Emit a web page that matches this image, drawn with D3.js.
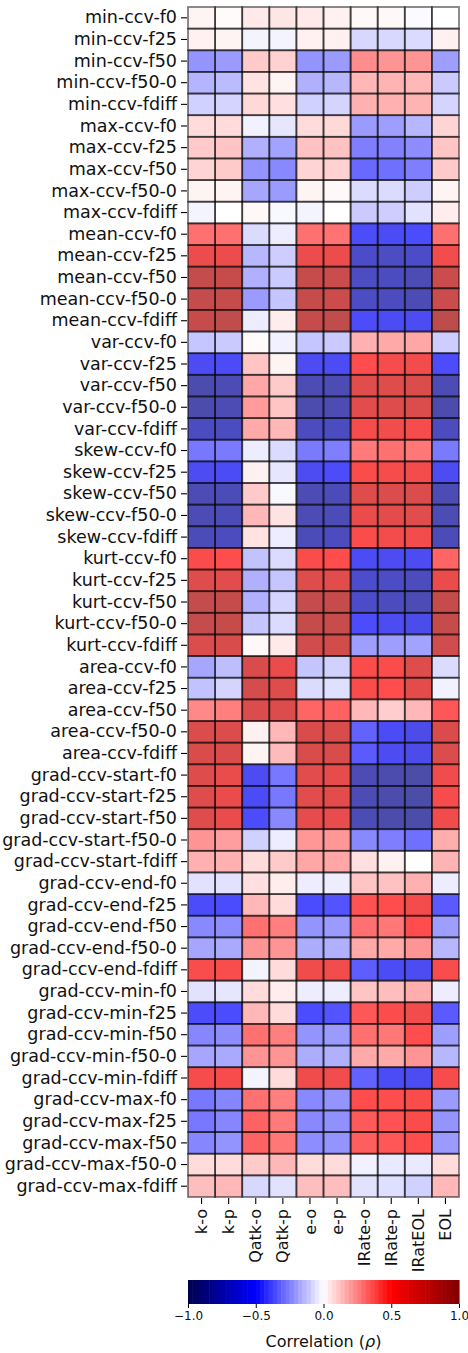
<!DOCTYPE html>
<html>
<head>
<meta charset="utf-8">
<script src="https://cdn.jsdelivr.net/npm/d3@7"></script>
<style>
  html, body { margin: 0; padding: 0; background: #fff; }
  svg { display: block; font-family: "DejaVu Sans", sans-serif; }
</style>
</head>
<body>
<svg id="chart" width="468" height="1353"></svg>
<script>
// ---------- data ----------
const columns = ["k-o", "k-p", "Qatk-o", "Qatk-p", "e-o", "e-p", "IRate-o", "IRate-p", "IRatEOL", "EOL"];
const suffixes = ["f0", "f25", "f50", "f50-0", "fdiff"];
const families = ["min-ccv", "max-ccv", "mean-ccv", "var-ccv", "skew-ccv", "kurt-ccv", "area-ccv",
                  "grad-ccv-start", "grad-ccv-end", "grad-ccv-min", "grad-ccv-max"];

const minVals = [
  [0.03, 0.01, 0.06, 0.07, 0.06, 0.04, 0.02, 0.02, -0.01, 0.00],
  [0.04, 0.03, -0.03, -0.03, 0.04, 0.04, -0.11, -0.11, -0.10, 0.04],
  [-0.30, -0.28, 0.15, 0.13, -0.30, -0.28, 0.32, 0.30, 0.30, -0.27],
  [-0.21, -0.19, 0.08, 0.03, -0.22, -0.20, 0.20, 0.21, 0.20, -0.15],
  [-0.13, -0.12, 0.11, 0.09, -0.13, -0.12, 0.22, 0.22, 0.21, -0.12]
];
const maxVals = [
  [0.10, 0.10, -0.04, -0.07, 0.10, 0.11, -0.28, -0.27, -0.20, 0.12],
  [0.15, 0.16, -0.22, -0.26, 0.17, 0.17, -0.36, -0.35, -0.32, 0.16],
  [0.12, 0.15, -0.30, -0.33, 0.12, 0.13, -0.42, -0.40, -0.36, 0.15],
  [0.03, 0.03, -0.25, -0.28, 0.03, 0.02, -0.10, -0.10, -0.14, 0.03],
  [-0.03, 0.00, 0.02, -0.02, -0.03, 0.00, -0.15, -0.14, -0.08, 0.05]
];
const meanVals = [
  [0.40, 0.40, -0.10, -0.05, 0.40, 0.39, -0.52, -0.53, -0.50, 0.40],
  [0.60, 0.60, -0.20, -0.14, 0.60, 0.60, -0.72, -0.74, -0.72, 0.57],
  [0.83, 0.82, -0.22, -0.15, 0.82, 0.80, -0.74, -0.75, -0.80, 0.80],
  [0.83, 0.82, -0.28, -0.16, 0.82, 0.80, -0.73, -0.76, -0.80, 0.80],
  [0.82, 0.85, -0.05, 0.05, 0.82, 0.85, -0.52, -0.54, -0.55, 0.87]
];
const varVals = [
  [-0.16, -0.15, 0.01, -0.04, -0.16, -0.15, 0.22, 0.24, 0.25, -0.14],
  [-0.55, -0.53, 0.16, 0.03, -0.55, -0.53, 0.50, 0.55, 0.57, -0.52],
  [-0.82, -0.80, 0.25, 0.15, -0.80, -0.80, 0.67, 0.68, 0.70, -0.80],
  [-0.83, -0.80, 0.28, 0.16, -0.82, -0.80, 0.66, 0.68, 0.70, -0.82],
  [-0.75, -0.75, 0.24, 0.20, -0.76, -0.75, 0.55, 0.57, 0.55, -0.76]
];
const skewVals = [
  [-0.38, -0.37, -0.05, -0.10, -0.37, -0.36, 0.37, 0.40, 0.38, -0.37],
  [-0.55, -0.53, 0.04, -0.07, -0.55, -0.52, 0.52, 0.55, 0.56, -0.55],
  [-0.80, -0.78, 0.15, -0.02, -0.80, -0.78, 0.68, 0.70, 0.70, -0.80],
  [-0.80, -0.78, 0.20, 0.08, -0.80, -0.78, 0.62, 0.65, 0.67, -0.80],
  [-0.78, -0.76, 0.08, -0.05, -0.78, -0.76, 0.52, 0.56, 0.57, -0.78]
];
const kurtVals = [
  [0.52, 0.50, -0.17, -0.10, 0.52, 0.50, -0.53, -0.55, -0.55, 0.43],
  [0.68, 0.66, -0.22, -0.16, 0.68, 0.67, -0.70, -0.73, -0.76, 0.62],
  [0.84, 0.82, -0.22, -0.12, 0.83, 0.82, -0.72, -0.76, -0.80, 0.82],
  [0.83, 0.82, -0.16, -0.10, 0.82, 0.81, -0.52, -0.56, -0.58, 0.82],
  [0.70, 0.72, 0.02, 0.06, 0.76, 0.75, -0.27, -0.27, -0.26, 0.76]
];
const areaVals = [
  [-0.25, -0.18, 0.72, 0.62, -0.16, -0.13, 0.52, 0.52, 0.68, -0.10],
  [-0.17, -0.12, 0.74, 0.68, -0.10, -0.09, 0.52, 0.50, 0.65, -0.04],
  [0.33, 0.36, 0.70, 0.69, 0.43, 0.44, 0.20, 0.14, 0.20, 0.47],
  [0.70, 0.70, 0.04, 0.20, 0.71, 0.72, -0.44, -0.53, -0.58, 0.71],
  [0.72, 0.71, 0.03, 0.19, 0.72, 0.72, -0.46, -0.55, -0.58, 0.70]
];
const gradStartVals = [
  [0.68, 0.62, -0.55, -0.38, 0.66, 0.64, -0.80, -0.82, -0.84, 0.58],
  [0.68, 0.62, -0.53, -0.38, 0.66, 0.65, -0.80, -0.83, -0.84, 0.55],
  [0.68, 0.62, -0.50, -0.33, 0.64, 0.63, -0.79, -0.83, -0.84, 0.58],
  [0.30, 0.27, -0.13, -0.05, 0.29, 0.29, -0.33, -0.36, -0.40, 0.23],
  [0.22, 0.22, 0.10, 0.15, 0.25, 0.25, 0.09, 0.04, 0.00, 0.21]
];
const gradEndVals = [
  [-0.08, -0.08, 0.09, 0.05, -0.05, -0.05, 0.16, 0.17, 0.22, -0.05],
  [-0.52, -0.50, 0.20, 0.10, -0.50, -0.48, 0.48, 0.50, 0.56, -0.46],
  [-0.33, -0.32, 0.40, 0.36, -0.30, -0.28, 0.40, 0.38, 0.50, -0.27],
  [-0.25, -0.24, 0.30, 0.30, -0.23, -0.22, 0.24, 0.24, 0.30, -0.20],
  [0.53, 0.53, -0.03, 0.10, 0.58, 0.57, -0.45, -0.53, -0.55, 0.53]
];
const gradMinVals = [
  [-0.08, -0.07, 0.10, 0.05, -0.05, -0.05, 0.16, 0.18, 0.23, -0.05],
  [-0.52, -0.50, 0.20, 0.10, -0.50, -0.48, 0.47, 0.51, 0.57, -0.46],
  [-0.34, -0.32, 0.40, 0.36, -0.30, -0.28, 0.40, 0.38, 0.50, -0.27],
  [-0.25, -0.24, 0.30, 0.30, -0.23, -0.22, 0.24, 0.24, 0.30, -0.20],
  [0.55, 0.54, -0.03, 0.10, 0.58, 0.57, -0.44, -0.53, -0.55, 0.54]
];
const gradMaxVals = [
  [-0.38, -0.34, 0.40, 0.36, -0.33, -0.30, 0.50, 0.50, 0.52, -0.28],
  [-0.38, -0.34, 0.44, 0.37, -0.33, -0.31, 0.46, 0.48, 0.52, -0.30],
  [-0.34, -0.30, 0.44, 0.38, -0.32, -0.30, 0.45, 0.47, 0.50, -0.28],
  [0.10, 0.10, 0.15, 0.20, 0.10, 0.10, -0.04, -0.06, -0.06, 0.10],
  [0.18, 0.20, -0.11, -0.08, 0.18, 0.18, -0.08, -0.09, -0.13, 0.20]
];
const colorbarTicks = [-1.0, -0.5, 0.0, 0.5, 1.0];
const colorbarLabel = "Correlation (";
const colorbarSymbol = "ρ";

// ---------- assemble ----------
const familyValues = [minVals, maxVals, meanVals, varVals, skewVals, kurtVals, areaVals,
                      gradStartVals, gradEndVals, gradMinVals, gradMaxVals];
const rowLabels = [];
const cells = [];
families.forEach((fam, fi) => {
  suffixes.forEach((suf, si) => {
    const label = fam + "-" + suf;
    rowLabels.push(label);
    familyValues[fi][si].forEach((v, ci) => cells.push({row: label, col: columns[ci], v}));
  });
});

// ---------- layout ----------
const svg = d3.select("#chart");
const gx0 = 188, gx1 = 459, gy0 = 7, gy1 = 1197;

const x = d3.scaleBand().domain(columns).range([gx0, gx1]).padding(0);
const y = d3.scaleBand().domain(rowLabels).range([gy0, gy1]).padding(0);
const seismic = d3.scaleLinear()
  .domain([-1, -0.5, 0, 0.5, 1])
  .range(["#00004c", "#0000ff", "#ffffff", "#ff0000", "#800000"])
  .clamp(true);

// fills
svg.append("g")
  .selectAll("rect")
  .data(cells)
  .join("rect")
  .attr("x", d => x(d.col))
  .attr("y", d => y(d.row))
  .attr("width", x.bandwidth())
  .attr("height", y.bandwidth())
  .attr("fill", d => seismic(d.v))
  .attr("fill-opacity", 0.7);

// edges
svg.append("g")
  .selectAll("rect")
  .data(cells)
  .join("rect")
  .attr("x", d => x(d.col))
  .attr("y", d => y(d.row))
  .attr("width", x.bandwidth())
  .attr("height", y.bandwidth())
  .attr("fill", "none")
  .attr("stroke", "#000")
  .attr("stroke-opacity", 0.5)
  .attr("stroke-width", 1.8);

// row axis
const yAxis = svg.append("g")
  .attr("transform", `translate(${gx0 - 1},0)`)
  .call(d3.axisLeft(y).tickSize(6).tickPadding(4));
yAxis.select(".domain").remove();
yAxis.selectAll(".tick line").attr("stroke", "#000").attr("stroke-width", 1.1);
yAxis.selectAll(".tick text")
  .attr("fill", "#111")
  .style("font-size", "17.5px")
  .style("font-family", "DejaVu Sans");

// column axis
const xAxis = svg.append("g")
  .attr("transform", `translate(0,${gy1 + 1})`)
  .call(d3.axisBottom(x).tickSize(6).tickPadding(4));
xAxis.select(".domain").remove();
xAxis.selectAll(".tick line").attr("stroke", "#000").attr("stroke-width", 1.1);
xAxis.selectAll(".tick text")
  .attr("fill", "#111")
  .style("font-size", "16px")
  .style("font-family", "DejaVu Sans")
  .attr("transform", "rotate(-90)")
  .attr("text-anchor", "end")
  .attr("x", -11)
  .attr("y", 0)
  .attr("dy", "0.35em");

// colorbar
const cbX0 = 188, cbX1 = 459, cbY0 = 1280, cbY1 = 1304;
const cbScale = d3.scaleLinear().domain([-1, 1]).range([cbX0, cbX1]);
const nSteps = 64;
const steps = d3.range(nSteps).map(i => -1 + (2 * i) / nSteps);
svg.append("g")
  .selectAll("rect")
  .data(steps)
  .join("rect")
  .attr("x", d => cbScale(d))
  .attr("y", cbY0)
  .attr("width", (cbX1 - cbX0) / nSteps + 0.6)
  .attr("height", cbY1 - cbY0)
  .attr("fill", d => seismic(d + 1 / nSteps));

const cbAxis = svg.append("g")
  .attr("transform", `translate(0,${cbY1})`)
  .call(d3.axisBottom(cbScale).tickValues(colorbarTicks).tickFormat(d3.format(".1f")).tickSize(4).tickPadding(3));
cbAxis.select(".domain").remove();
cbAxis.selectAll(".tick line").attr("stroke", "#000").attr("stroke-width", 1);
cbAxis.selectAll(".tick text")
  .attr("fill", "#111")
  .style("font-size", "12px")
  .style("font-family", "DejaVu Sans");

const lab = svg.append("text")
  .attr("x", (cbX0 + cbX1) / 2)
  .attr("y", 1347)
  .attr("text-anchor", "middle")
  .attr("fill", "#111")
  .style("font-size", "16px");
lab.append("tspan").text(colorbarLabel);
lab.append("tspan").style("font-style", "italic").text(colorbarSymbol);
lab.append("tspan").text(")");
</script>
</body>
</html>
